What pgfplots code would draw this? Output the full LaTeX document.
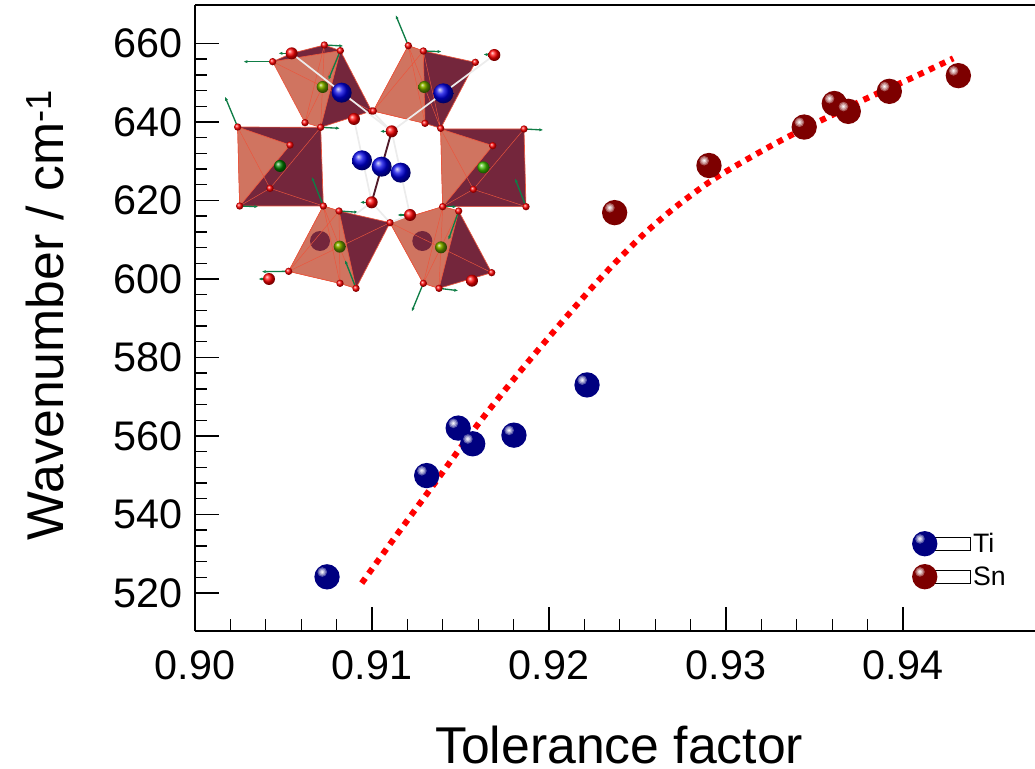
\documentclass[border=0pt]{standalone}
\usepackage{fontspec}
\setmainfont{Liberation Sans}
\usepackage{pgfplots}
\pgfplotsset{compat=1.18}
\usetikzlibrary{arrows.meta}
\definecolor{tiC}{RGB}{0,0,128}
\definecolor{snC}{RGB}{125,0,0}
\definecolor{faceL}{RGB}{208,116,96}
\definecolor{faceD}{RGB}{116,38,60}
\definecolor{edgeC}{RGB}{235,85,60}
\definecolor{arrC}{RGB}{15,125,70}
\newcommand{\ballmark}[2]{%
  \pgfdeclareplotmark{#1}{%
    \pgfsetfillcolor{#2}\pgfpathcircle{\pgfpointorigin}{9.5pt}\pgfusepathqfill
    \pgfsetfillcolor{#2!65!white}\pgfpathcircle{\pgfpoint{-3.6pt}{3.6pt}}{3.6pt}\pgfusepathqfill
    \pgfsetfillcolor{#2!40!white}\pgfpathcircle{\pgfpoint{-3.6pt}{3.6pt}}{2.6pt}\pgfusepathqfill
    \pgfsetfillcolor{#2!18!white}\pgfpathcircle{\pgfpoint{-3.6pt}{3.6pt}}{1.5pt}\pgfusepathqfill
    \pgfsetfillcolor{white}\pgfpathcircle{\pgfpoint{-3.6pt}{3.6pt}}{0.6pt}\pgfusepathqfill}}
\ballmark{tiball}{tiC}
\ballmark{snball}{snC}
\begin{document}
\begin{tikzpicture}
\useasboundingbox (-146.25pt,-102.75pt) rectangle (630pt,473.25pt);
\begin{axis}[
  at={(0pt,0pt)}, anchor=south west, scale only axis,
  width=630pt, height=469.5pt,
  xmin=0.9, xmax=0.94746, ymin=510.3, ymax=669.8,
  axis x line=box, axis y line=left, axis line style={-, line width=1.2pt, black},
  xtick={0.90,0.91,0.92,0.93,0.94}, ytick={520,540,...,660},
  minor x tick num=4, minor y tick num=4,
  xtick pos=bottom, ytick pos=left,
  tick align=inside,
  major tick length=18pt, minor tick length=9pt,
  tick style={line width=1pt, black},
  /pgf/number format/assume math mode=true,
  x tick label style={/pgf/number format/.cd, fixed, fixed zerofill, precision=2, /tikz/.cd, yshift=-11pt},
  y tick label style={/pgf/number format/.cd, fixed, precision=0, /tikz/.cd, xshift=-6pt},
  tick label style={font=\fontsize{31}{36}\selectfont},
  xlabel={Tolerance factor},
  ylabel={Wavenumber / cm\textsuperscript{-1}},
  label style={font=\fontsize{38.8}{44}\selectfont},
  xlabel style={at={(axis description cs:0.505,-0.182)}, anchor=center},
  ylabel style={at={(axis description cs:-0.1786,0.505)}, anchor=center},
  legend style={at={(axis cs:0.9405,536)}, anchor=north west, draw=none, fill=none,
     font=\fontsize{20}{24}\selectfont, row sep=5pt, inner sep=0pt},
  legend image code/.code={\path (0pt,-5pt) rectangle (34pt,5pt);\draw[#1] plot coordinates {(0pt,0pt)};},
  legend cell align=left,
]
\addplot[only marks, mark=tiball] coordinates {
 (0.90746,524.1) (0.91309,549.9) (0.91487,562.0) (0.91569,558.0) (0.91802,560.2) (0.92215,573.0)};
\addlegendentry{Ti}
\addplot[only marks, mark=snball] coordinates {
 (0.92371,616.9) (0.92904,628.9) (0.93442,638.7) (0.93612,644.7) (0.93691,642.7) (0.93923,647.8) (0.94313,651.8)};
\addlegendentry{Sn}
\addplot[forget plot, red, line width=4.5pt, smooth, dash pattern=on 4.5pt off 4.5pt] coordinates {
 (0.90942,522.5) (0.91140,534.8) (0.91337,546.9) (0.91582,562.0) (0.91789,573.8) (0.92006,585.5)
 (0.92269,599.1) (0.92505,610.1) (0.92706,618.0) (0.92923,625.2) (0.93151,631.3) (0.93380,636.9)
 (0.93795,646.0) (0.94040,651.0) (0.94284,656.2)};
\end{axis}
% Inset: crystal structure sketch, coordinates in zoomed-crop units
\begin{scope}[shift={(-3.75pt,473.25pt)}, x=0.25pt, y=-0.25pt, line join=round]
  \tikzset{fl/.style={fill=faceL, draw=edgeC, line width=.5pt},
           fd/.style={fill=faceD, draw=edgeC, line width=.5pt},
           ln/.style={edgeC, line width=.35pt},
           arr/.style={arrC, line width=1pt, -{Latex[length=3pt,width=2.4pt]}},
           bond/.style={white!85!gray, line width=1.3pt}}
  % left octahedron
  \path[fd] (143,381)--(392,382)--(400,618)--(149,618)--cycle;
  \path[fl] (143,381)--(300,435)--(149,618)--cycle;
  \draw[ln] (143,381)--(240,565)--(400,618) (149,618)--(240,565) (392,382)--(240,565);
  % right octahedron
  \path[fd] (752,387)--(1002,387)--(1008,620)--(758,620)--cycle;
  \path[fl] (752,387)--(908,437)--(758,620)--cycle;
  \draw[ln] (752,387)--(850,568)--(1008,620) (758,620)--(850,568) (1002,387)--(850,568);
  % top-left octahedron
  \path[fd] (305,160)--(403,135)--(451,152)--(545,333)--(392,382)--(248,185)--cycle;
  \path[fl] (248,185)--(451,152)--(392,382)--(345,368)--cycle;
  \draw[ln] (345,368)--(451,152) (403,135)--(345,368) (403,135)--(392,382) (248,185)--(545,333);
  % top-right octahedron
  \path[fd] (655,137)--(700,153)--(856,187)--(752,385)--(705,370)--(550,333)--cycle;
  \path[fl] (550,333)--(655,137)--(700,153)--(705,370)--cycle;
  \draw[ln] (655,137)--(705,370) (550,333)--(700,153) (700,153)--(752,385) (655,137)--(752,385);
  % bottom-left octahedron
  \path[fd] (400,618)--(447,633)--(600,668)--(498,865)--(450,850)--(296,814)--cycle;
  \path[fl] (400,618)--(447,633)--(498,865)--(450,850)--(296,814)--cycle;
  \fill[faceD] (390,723) circle[radius=30];
  \draw[ln] (447,633)--(450,850) (400,618)--(450,850) (296,814)--(447,633) (400,618)--(498,865) (296,814)--(600,668);
  % bottom-right octahedron
  \path[fd] (600,668)--(758,620)--(806,633)--(905,818)--(747,865)--(700,850)--cycle;
  \path[fl] (600,668)--(758,620)--(806,633)--(747,865)--(700,850)--cycle;
  \fill[faceD] (697,723) circle[radius=30];
  \draw[ln] (758,620)--(700,850) (758,620)--(747,865) (806,633)--(700,850) (600,668)--(905,818);
  % Sn/Ti site spheres
  \foreach \x/\y/\c in {398/261/olive!80!green, 703/261/olive!80!green, 270/498/green!50!black,
                        880/502/green!50!olive, 449/740/olive!80!green, 753/742/olive!80!green}
    \shade[ball color=\c] (\x,\y) circle[radius=18];
  % displacement arrows
  \foreach \a/\b/\c/\d in {248/185/160/185, 392/382/450/385, 143/381/105/290, 655/137/617/45,
      700/153/755/155, 913/165/880/163, 1002/387/1060/390, 149/618/205/620, 400/618/365/530,
      1008/620/975/535, 758/620/800/620, 447/633/505/637, 806/633/775/720, 498/865/465/780,
      296/814/215/815, 237/837/205/837, 700/850/665/935, 747/865/805/872, 451/152/415/240,
      403/135/460/138, 305/160/265/160, 605/394/570/394, 545/607/510/607, 660/645/622/645}
    \draw[arr] (\a,\b)--(\c,\d);
  % bonds
  \draw[bond] (305,160)--(605,394) (913,165)--(605,394) (545,333)--(605,394)
              (492,357)--(545,607) (660,645)--(605,394) (545,607)--(600,668) (660,645)--(600,668)
              (545,607)--(500,640);
  \draw[faceD!70!black, line width=1.4pt] (605,394)--(545,607);
  % small red vertices
  \foreach \x/\y in {248/185,403/135,451/152,545/333,392/382,345/368,655/137,700/153,856/187,752/385,
      705/370,550/333,143/381,300/435,149/618,400/618,240/565,908/437,1002/387,1008/620,758/620,850/568,
      447/633,600/668,498/865,450/850,296/814,806/633,905/818,747/865,700/850}
    \shade[ball color=red] (\x,\y) circle[radius=11];
  % large red anions
  \foreach \x/\y in {305/160,913/165,492/357,605/394,545/607,660/645,237/837,846/842}
    \shade[ball color=red] (\x,\y) circle[radius=18];
  % A-site cations
  \foreach \x/\y in {455/278,760/280,516/481,575/500,632/518}
    \shade[ball color=blue!90!black] (\x,\y) circle[radius=30];
\end{scope}
\end{tikzpicture}
\end{document}
